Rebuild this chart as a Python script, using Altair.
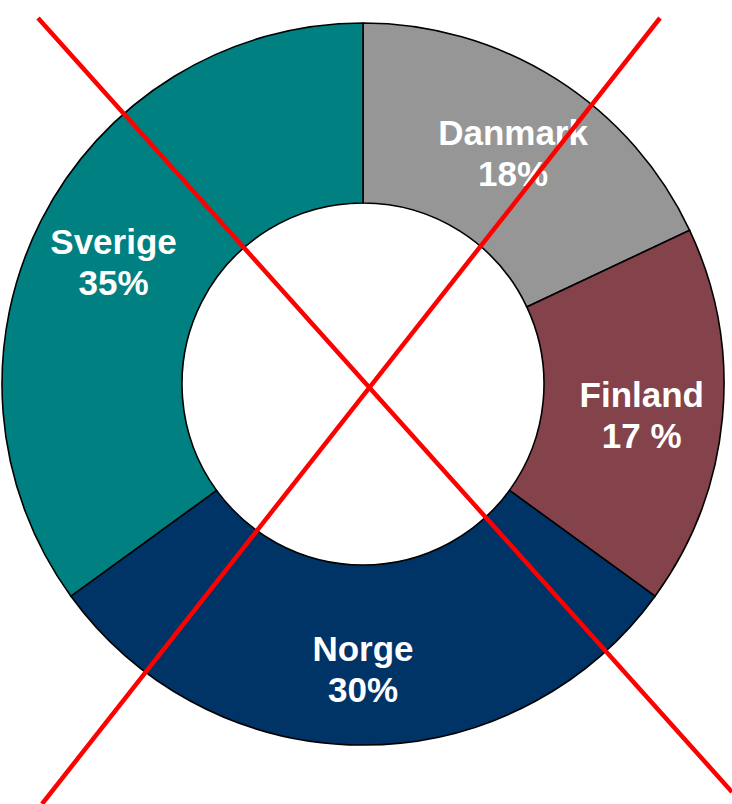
import altair as alt
import pandas as pd

countries = ["Danmark", "Finland", "Norge", "Sverige"]
shares = [18, 17, 30, 35]
labels = ["Danmark\n18%", "Finland\n17 %", "Norge\n30%", "Sverige\n35%"]
colors = ["#969696", "#84424B", "#003366", "#008080"]

df = pd.DataFrame({
    "country": countries,
    "share": shares,
    "label": labels,
    "idx": list(range(len(countries))),
})

CX, CY = 363, 384

base = alt.Chart(df).encode(
    theta=alt.Theta("share:Q", stack=True),
    order=alt.Order("idx:Q"),
    x=alt.value(CX),
    y=alt.value(CY),
)

arcs = base.mark_arc(outerRadius=361, innerRadius=181, stroke="black", strokeWidth=1.6).encode(
    color=alt.Color("country:N", scale=alt.Scale(domain=countries, range=colors), legend=None)
)

text = base.mark_text(
    radius=280, font="Liberation Sans", fontWeight="bold", fontSize=35,
    color="white", lineBreak="\n", lineHeight=41, align="center", baseline="middle", dy=-14
).encode(text="label:N")

one = pd.DataFrame({"a": [0]})
line1 = alt.Chart(one).mark_rule(color="#FF0000", strokeWidth=4.5).encode(
    x=alt.value(38), y=alt.value(18), x2=alt.value(732), y2=alt.value(792)
)
line2 = alt.Chart(one).mark_rule(color="#FF0000", strokeWidth=4.5).encode(
    x=alt.value(660), y=alt.value(18), x2=alt.value(42), y2=alt.value(804)
)

chart = alt.layer(arcs, text, line1, line2).properties(
    width=732, height=804, padding=0, autosize="none"
).configure_view(stroke=None)

chart.save("out.html", embed_options={"renderer": "svg", "actions": False})
